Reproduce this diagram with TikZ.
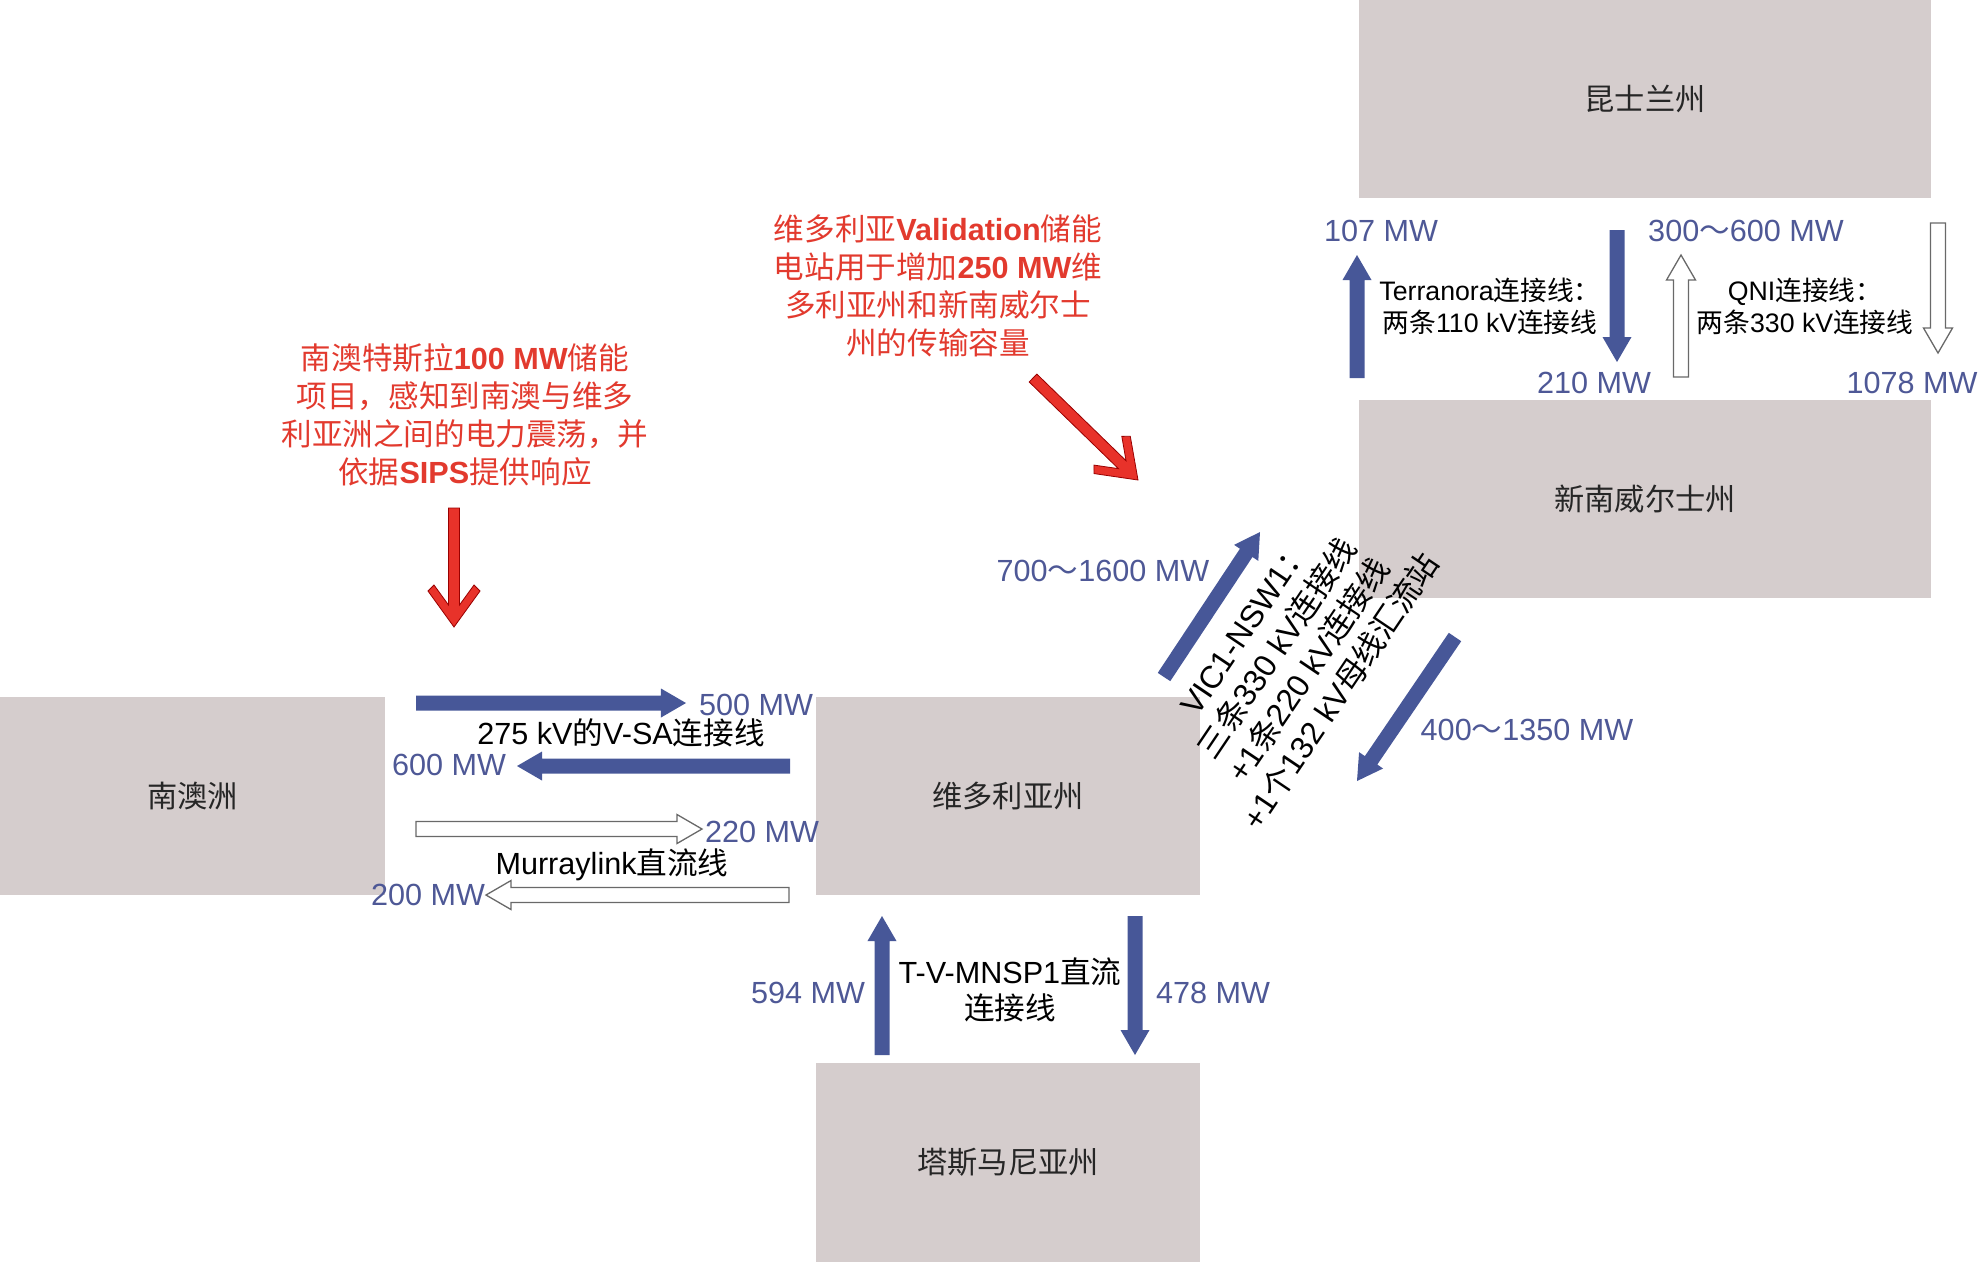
\documentclass[tikz,border=0pt]{standalone}
\usepackage{fontspec}
\setmainfont{Liberation Sans}
\newfontfamily\zhfont{Noto Sans CJK SC}
\newcommand{\zh}[1]{{\zhfont #1}}
\usetikzlibrary{calc}

\definecolor{boxgrey}{RGB}{213,205,205}
\definecolor{flowblue}{RGB}{71,87,152}
\definecolor{mwblue}{RGB}{78,88,150}
\definecolor{notered}{RGB}{226,58,46}
\definecolor{alertred}{RGB}{232,50,42}
\definecolor{hollowgrey}{RGB}{105,105,105}

% block arrow sizes
\def\arrshaft{0.075cm}
\def\arrheadw{0.145cm}
\def\arrheadl{0.25cm}
\def\redshaft{0.055cm}

% block arrow from #2 to #3
\newcommand{\flowarrow}[3][flow]{%
	\path[#1] ($(#2)!\arrshaft!90:(#3)$)
		-- ($(#3)!\arrheadl!(#2)!\arrshaft!90:(#3)$)
		-- ($(#3)!\arrheadl!(#2)!\arrheadw!90:(#3)$)
		-- (#3)
		-- ($(#3)!\arrheadl!(#2)!\arrheadw!-90:(#3)$)
		-- ($(#3)!\arrheadl!(#2)!\arrshaft!-90:(#3)$)
		-- ($(#2)!\arrshaft!-90:(#3)$) -- cycle;}

% red arrow with chevron head from #1 to #2
\newcommand{\alertarrow}[2]{%
	\path[alert] ($(#1)!\redshaft!90:(#2)$)
		-- ($(#2)!0.22cm!(#1)!\redshaft!90:(#2)$)
		-- ($(#2)!0.42cm!(#1)!0.20cm!90:(#2)$)
		-- ($(#2)!0.36cm!(#1)!0.26cm!90:(#2)$)
		-- (#2)
		-- ($(#2)!0.36cm!(#1)!0.26cm!-90:(#2)$)
		-- ($(#2)!0.42cm!(#1)!0.20cm!-90:(#2)$)
		-- ($(#2)!0.22cm!(#1)!\redshaft!-90:(#2)$)
		-- ($(#1)!\redshaft!-90:(#2)$) -- cycle;}

\tikzset{
	region/.style={fill=boxgrey, inner sep=0pt, text=black!85,
		font=\fontsize{8.6pt}{10pt}\selectfont},
	mw/.style={text=mwblue, inner sep=0pt, font=\fontsize{8.7pt}{10pt}\selectfont},
	linename/.style={align=center, inner sep=0pt, font=\fontsize{8.7pt}{10.6pt}\selectfont},
	smallname/.style={align=center, inner sep=0pt, font=\fontsize{7.6pt}{9.1pt}\selectfont},
	note/.style={align=center, inner sep=0pt, text=notered,
		font=\fontsize{8.7pt}{10.8pt}\selectfont},
	flow/.style={fill=flowblue},
	hollow/.style={fill=white, draw=hollowgrey, line width=0.013cm},
	alert/.style={fill=alertred, draw=red!60!black, line width=0.008cm},
}

\begin{document}
\begin{tikzpicture}[x=0.01cm, y=-0.01cm]
	\useasboundingbox (0,0) rectangle (1984,1262);

	% states
	\node[region, minimum width=5.72cm, minimum height=1.98cm] (qld) at (1645,99) {\zh{昆士兰州}};
	\node[region, minimum width=5.72cm, minimum height=1.98cm] (nsw) at (1645,499) {\zh{新南威尔士州}};
	\node[region, minimum width=3.85cm, minimum height=1.98cm] (sa) at (192.5,796) {\zh{南澳洲}};
	\node[region, minimum width=3.84cm, minimum height=1.98cm] (vic) at (1008,796) {\zh{维多利亚州}};
	\node[region, minimum width=3.84cm, minimum height=1.99cm] (tas) at (1008,1162.5) {\zh{塔斯马尼亚州}};

	% Terranora and QNI
	\coordinate (tnUpS) at (1357,378);
	\coordinate (tnUpE) at (1357,255);
	\coordinate (tnDnS) at (1617,230);
	\coordinate (tnDnE) at (1617,362);
	\coordinate (qniUpS) at (1681,377);
	\coordinate (qniUpE) at (1681,255);
	\coordinate (qniDnS) at (1938,223);
	\coordinate (qniDnE) at (1938,353);
	\flowarrow{tnUpS}{tnUpE}
	\flowarrow{tnDnS}{tnDnE}
	\flowarrow[hollow]{qniUpS}{qniUpE}
	\flowarrow[hollow]{qniDnS}{qniDnE}
	\node[mw] (mw107) at (1381,231) {107 MW};
	\node[mw] (mw210) at (1594,383) {210 MW};
	\node[mw] (mw300) at (1746,231) {300\zh{～}600 MW};
	\node[mw] (mw1078) at (1912,383) {1078 MW};
	\node[smallname] (terranora) at (1490,306) {Terranora\zh{连接线：}\\\zh{两条}110 kV\zh{连接线}};
	\node[smallname] (qni) at (1805,306) {QNI\zh{连接线：}\\\zh{两条}330 kV\zh{连接线}};

	% VIC1-NSW1
	\coordinate (vnUpS) at (1164,677);
	\coordinate (vnUpE) at (1260,532);
	\coordinate (vnDnS) at (1455,637);
	\coordinate (vnDnE) at (1357,781);
	\flowarrow{vnUpS}{vnUpE}
	\flowarrow{vnDnS}{vnDnE}
	\node[mw] (mw700) at (1103,571) {700\zh{～}1600 MW};
	\node[mw] (mw400) at (1527,730) {400\zh{～}1350 MW};
	\node[linename, rotate=56, font=\fontsize{9pt}{10.9pt}\selectfont] (vicnsw) at (1294,660)
		{VIC1-NSW1\zh{：}\\\zh{三条}330 kV\zh{连接线}\\+1\zh{条}220 kV\zh{连接线}\\+1\zh{个}132 kV\zh{母线汇流站}};

	% V-SA and Murraylink
	\coordinate (vsaRS) at (416,703);
	\coordinate (vsaRE) at (686,703);
	\coordinate (vsaLS) at (790,766);
	\coordinate (vsaLE) at (517,766);
	\coordinate (mlRS) at (416,829);
	\coordinate (mlRE) at (702,829);
	\coordinate (mlLS) at (789,895);
	\coordinate (mlLE) at (486,895);
	\flowarrow{vsaRS}{vsaRE}
	\flowarrow{vsaLS}{vsaLE}
	\flowarrow[hollow]{mlRS}{mlRE}
	\flowarrow[hollow]{mlLS}{mlLE}
	\node[mw] (mw500) at (756,705) {500 MW};
	\node[mw] (mw600) at (449,765) {600 MW};
	\node[mw] (mw220) at (762,832) {220 MW};
	\node[mw] (mw200) at (428,895) {200 MW};
	\node[linename] (vsa) at (621,733) {275 kV\zh{的}V-SA\zh{连接线}};
	\node[linename] (murray) at (612,865) {Murraylink\zh{直流线}};

	% T-V-MNSP1
	\coordinate (tvUpS) at (882,1055);
	\coordinate (tvUpE) at (882,916);
	\coordinate (tvDnS) at (1135,916);
	\coordinate (tvDnE) at (1135,1055);
	\flowarrow{tvUpS}{tvUpE}
	\flowarrow{tvDnS}{tvDnE}
	\node[mw] (mw594) at (808,993) {594 MW};
	\node[mw] (mw478) at (1213,993) {478 MW};
	\node[linename, font=\fontsize{8.7pt}{10.2pt}\selectfont] (tvm) at (1010,990) {T-V-MNSP1\zh{直流}\\\zh{连接线}};

	% storage notes
	\node[note] (tesla) at (465,415)
		{\zh{南澳特斯拉}\textbf{100 MW}\zh{储能}\\\zh{项目，感知到南澳与维多}\\\zh{利亚洲之间的电力震荡，并}\\\zh{依据}\textbf{SIPS}\zh{提供响应}};
	\node[note] (validation) at (938,286)
		{\zh{维多利亚}\textbf{Validation}\zh{储能}\\\zh{电站用于增加}\textbf{250 MW}\zh{维}\\\zh{多利亚州和新南威尔士}\\\zh{州的传输容量}};
	\coordinate (teslaS) at (454,508);
	\coordinate (teslaE) at (454,627);
	\coordinate (validS) at (1033,378);
	\coordinate (validE) at (1138,480);
	\alertarrow{teslaS}{teslaE}
	\alertarrow{validS}{validE}
\end{tikzpicture}
\end{document}
